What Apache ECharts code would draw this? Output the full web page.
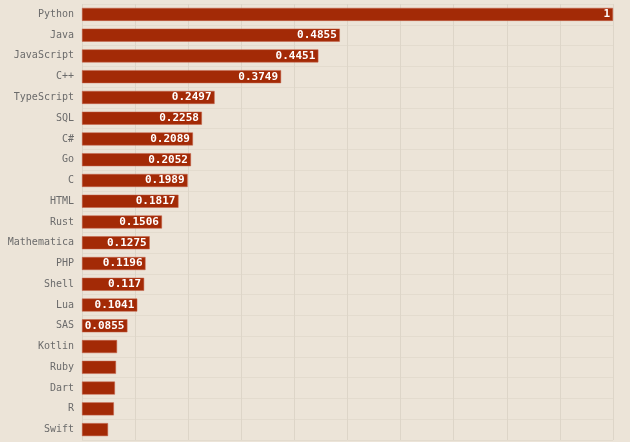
<!DOCTYPE html>
<html>
<head>
<meta charset="utf-8">
<script src="https://cdn.jsdelivr.net/npm/echarts@6/dist/echarts.min.js"></script>
<style>html,body{margin:0;padding:0;background:#ece4d8;}#main{width:630px;height:442px;}</style>
</head>
<body>
<div id="main"></div>
<script>
var languages = ['Python','Java','JavaScript','C++','TypeScript','SQL','C#','Go','C','HTML','Rust','Mathematica','PHP','Shell','Lua','SAS','Kotlin','Ruby','Dart','R','Swift'];
var scores = [1,0.4855,0.4451,0.3749,0.2497,0.2258,0.2089,0.2052,0.1989,0.1817,0.1506,0.1275,0.1196,0.117,0.1041,0.0855,0.066,0.064,0.062,0.060,0.049];

var chart = echarts.init(document.getElementById('main'));
chart.setOption({
  backgroundColor: '#ece4d8',
  animation: false,
  grid: {left: 82, right: 17, top: 4, bottom: 2},
  xAxis: {
    type: 'value', min: 0, max: 1, interval: 0.1,
    axisLabel: {show: false}, axisLine: {show: false}, axisTick: {show: false},
    splitLine: {lineStyle: {color: '#ddd5c8', width: 1}}
  },
  yAxis: {
    type: 'category', inverse: true, data: languages,
    axisLine: {show: false}, axisTick: {show: false},
    splitLine: {show: true, lineStyle: {color: '#e3dbce'}},
    axisLabel: {color: '#6b6b6b', fontFamily: 'DejaVu Sans Mono', fontSize: 10, margin: 8}
  },
  series: [{
    type: 'bar', data: scores, barWidth: 13,
    itemStyle: {color: '#a32a06', borderColor: '#c4624a', borderWidth: 0.5},
    label: {
      show: true, position: 'insideRight', color: '#fff', fontWeight: 'bold',
      fontFamily: 'DejaVu Sans Mono', fontSize: 11, distance: 3,
      formatter: function (p) { return p.value < 0.08 ? '' : String(p.value); }
    }
  }]
});
</script>
</body>
</html>
